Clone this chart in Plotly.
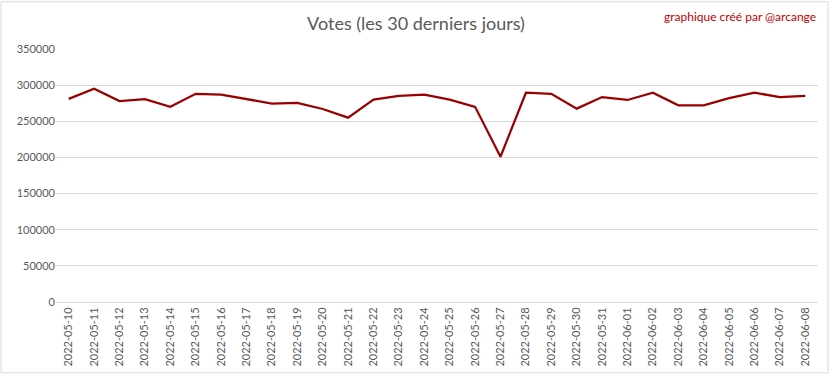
import plotly.graph_objects as go

dates = ["2022-05-10","2022-05-11","2022-05-12","2022-05-13","2022-05-14","2022-05-15",
         "2022-05-16","2022-05-17","2022-05-18","2022-05-19","2022-05-20","2022-05-21",
         "2022-05-22","2022-05-23","2022-05-24","2022-05-25","2022-05-26","2022-05-27",
         "2022-05-28","2022-05-29","2022-05-30","2022-05-31","2022-06-01","2022-06-02",
         "2022-06-03","2022-06-04","2022-06-05","2022-06-06","2022-06-07","2022-06-08"]
votes = [281000, 295000, 278000, 280500, 270000, 288000,
         287000, 281000, 274500, 275500, 267000, 255000,
         280000, 285000, 287000, 280000, 270000, 201000,
         289500, 288000, 267500, 283500, 279500, 289500,
         272000, 272000, 282000, 289500, 283500, 285000]
y_ticks = [0, 50000, 100000, 150000, 200000, 250000, 300000, 350000]

W, H = 832, 379
L, R, T, B = 56, 14, 49, 73
pw, ph = W - L - R, H - T - B

def px_x(p):
    return (p - L) / pw

def px_y(p):
    return (H - B - p) / ph

font = "Lato, 'Open Sans', sans-serif"

fig = go.Figure()
fig.add_trace(go.Scatter(x=dates, y=votes, mode="lines",
                         line=dict(color="#990000", width=2.25),
                         hoverinfo="x+y"))

fig.update_layout(
    width=W, height=H,
    margin=dict(l=L, r=R, t=T, b=B),
    paper_bgcolor="white", plot_bgcolor="white",
    showlegend=False,
    font=dict(family=font, color="#595959", size=11),
    title=dict(text="Votes (les 30 derniers jours)", x=0.5, xanchor="center",
               xref="container", y=1 - 24 / H, yref="container", yanchor="middle",
               font=dict(size=18, color="#595959", family=font)),
    xaxis=dict(type="category", tickangle=-90, showgrid=False, zeroline=False,
               showline=True, linecolor="#d9d9d9", linewidth=1,
               ticks="", tickfont=dict(size=11, color="#595959"),
               range=[-0.5, len(dates) - 0.5]),
    yaxis=dict(range=[0, 350000], tickvals=y_ticks,
               ticktext=[str(v) for v in y_ticks],
               showgrid=True, gridcolor="#d9d9d9", gridwidth=1,
               zeroline=False, showline=False, ticks="",
               tickfont=dict(size=11, color="#595959")),
    annotations=[dict(text="graphique créé par @arcange", xref="paper", yref="paper",
                      x=px_x(818), y=px_y(16), xanchor="right", yanchor="middle",
                      showarrow=False, font=dict(size=12, color="#C00000", family=font))],
    shapes=[dict(type="rect", xref="paper", yref="paper",
                 x0=px_x(1), x1=px_x(828), y0=px_y(378), y1=px_y(1),
                 line=dict(color="#d9d9d9", width=1), layer="below")],
)

fig.write_html("out.html", config={"displayModeBar": False},
               post_script="document.body.style.margin='0';document.body.style.padding='0';")
